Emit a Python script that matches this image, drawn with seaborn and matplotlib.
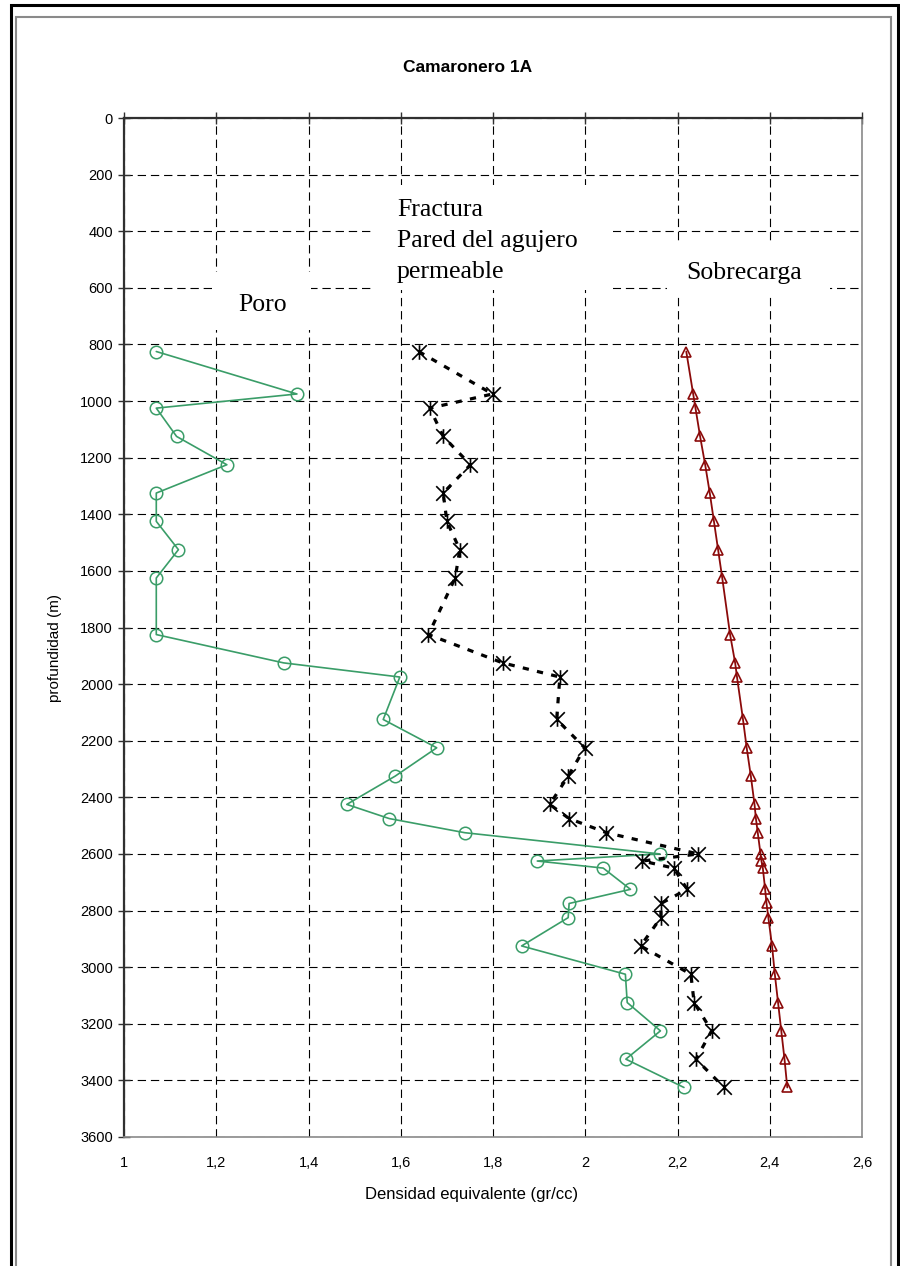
import matplotlib
matplotlib.use('Agg')
import matplotlib.pyplot as plt
import pandas as pd
import seaborn as sns
from matplotlib.path import Path
from matplotlib.patches import Rectangle
from matplotlib.ticker import FuncFormatter

# profundidad (m), shared by all three curves
DEPTH = [825, 975, 1025, 1125, 1225, 1325, 1425, 1525, 1625, 1825,
         1925, 1975, 2125, 2225, 2325, 2425, 2475, 2525, 2600, 2625,
         2650, 2725, 2775, 2825, 2925, 3025, 3125, 3225, 3325, 3425]

PORO = [1.070, 1.375, 1.070, 1.114, 1.223, 1.070, 1.070, 1.118, 1.070, 1.070,
        1.346, 1.598, 1.562, 1.678, 1.588, 1.483, 1.575, 1.739, 2.162, 1.896,
        2.039, 2.098, 1.965, 1.963, 1.862, 2.087, 2.091, 2.163, 2.088, 2.214]

FRACTURA = [1.639, 1.799, 1.663, 1.692, 1.751, 1.692, 1.700, 1.728, 1.718, 1.660,
            1.821, 1.945, 1.938, 1.999, 1.963, 1.923, 1.965, 2.046, 2.245, 2.124,
            2.192, 2.221, 2.164, 2.164, 2.120, 2.229, 2.236, 2.274, 2.240, 2.301]

SOBRECARGA = [2.219, 2.234, 2.239, 2.249, 2.260, 2.270, 2.279, 2.288, 2.297, 2.314,
              2.325, 2.329, 2.342, 2.350, 2.359, 2.367, 2.370, 2.374, 2.380, 2.382,
              2.385, 2.390, 2.393, 2.397, 2.405, 2.411, 2.418, 2.425, 2.432, 2.438]

X_TICKS = [1.0, 1.2, 1.4, 1.6, 1.8, 2.0, 2.2, 2.4, 2.6]
Y_TICKS = list(range(0, 3601, 200))

TITLE = 'Camaronero 1A'
X_LABEL = 'Densidad equivalente (gr/cc)'
Y_LABEL = 'profundidad (m)'

GREEN = '#3a9d68'
DARK_RED = '#8b0a0a'

sns.set_style('white')
plt.rcParams['font.family'] = ['Liberation Sans', 'DejaVu Sans']
plt.rcParams['text.color'] = 'black'
plt.rcParams['lines.scale_dashes'] = False

df = pd.DataFrame({'depth': DEPTH, 'poro': PORO,
                   'fractura': FRACTURA, 'sobrecarga': SOBRECARGA})

# excel style star: an X with a vertical bar through it
star = Path([(-1, -1), (1, 1), (-1, 1), (1, -1), (0, -1.0), (0, 1.0)],
            [Path.MOVETO, Path.LINETO, Path.MOVETO, Path.LINETO,
             Path.MOVETO, Path.LINETO])

W, H = 900, 1266
fig = plt.figure(figsize=(W / 100, H / 100), dpi=100)
ax = fig.add_axes([124 / W, 1 - 1137 / H, 738 / W, 1019 / H])

sns.lineplot(data=df, x='poro', y='depth', sort=False, estimator=None,
             color=GREEN, linewidth=1.2, marker='o', markersize=9,
             markerfacecolor='none', markeredgecolor=GREEN,
             markeredgewidth=1.1, ax=ax, zorder=3)
sns.lineplot(data=df, x='fractura', y='depth', sort=False, estimator=None,
             color='black', linewidth=2.3, dashes=False, ax=ax, zorder=3,
             marker=star, markersize=10.5, markeredgecolor='black',
             markeredgewidth=1.2)
ax.lines[-1].set_linestyle((0, (4.5, 6.0)))
sns.lineplot(data=df, x='sobrecarga', y='depth', sort=False, estimator=None,
             color=DARK_RED, linewidth=1.3, marker='^', markersize=7.5,
             markerfacecolor='none', markeredgecolor=DARK_RED,
             markeredgewidth=1.2, ax=ax, zorder=3)

ax.set_xlim(1.0, 2.6)
ax.set_ylim(3600, 0)
ax.set_xticks(X_TICKS)
ax.set_yticks(Y_TICKS)
ax.xaxis.set_major_formatter(FuncFormatter(lambda v, p: f'{v:g}'.replace('.', ',')))
ax.set_axisbelow(True)
ax.grid(True, color='black', linewidth=0.8, linestyle=(0, (6, 3.5)))

ax.tick_params(axis='x', bottom=False, top=True, labelbottom=True,
               labeltop=False, direction='inout', length=8, width=1,
               color='#303030', labelsize=10.5, labelcolor='black', pad=10)
ax.tick_params(axis='y', left=True, direction='inout', length=8, width=1,
               color='#303030', labelsize=10.5, labelcolor='black', pad=4)

for side in ('left', 'top'):
    ax.spines[side].set_color('#303030')
    ax.spines[side].set_linewidth(1.6)
for side in ('bottom', 'right'):
    ax.spines[side].set_color('#8a8a8a')
    ax.spines[side].set_linewidth(1.2)

ax.set_xlabel(X_LABEL, fontsize=12, color='black')
ax.set_ylabel(Y_LABEL, fontsize=11, color='black')
ax.xaxis.set_label_coords(0.4715, -0.049)
ax.yaxis.set_label_coords(-0.084, 0.48)

# white label boxes that hide the grid
for x0, y0, x1, y1 in [(1.540, 237, 2.060, 608), (1.193, 544, 1.405, 749),
                       (2.177, 438, 2.531, 632)]:
    ax.add_patch(Rectangle((x0, y0), x1 - x0, y1 - y0, facecolor='white',
                           edgecolor='none', zorder=1))

serif = ['Liberation Serif', 'DejaVu Serif']
ax.text(1.592, 435, 'Fractura\nPared del agujero\npermeable', family=serif,
        fontsize=18.5, ha='left', va='center', linespacing=1.55, zorder=2)
ax.text(1.247, 661, 'Poro', family=serif, fontsize=18.5, ha='left',
        va='center', zorder=2)
ax.text(2.218, 548, 'Sobrecarga', family=serif, fontsize=18.5, ha='left',
        va='center', zorder=2)

fig.text(468 / W, 1 - 68 / H, TITLE, ha='center', va='center',
         fontsize=12.5, fontweight='bold', color='black')

# double frame round the chart area
fig.add_artist(Rectangle((10.5 / W, -0.05), 887 / W, 1 - 5 / H + 0.05,
                         transform=fig.transFigure, fill=False,
                         edgecolor='black', linewidth=2.2))
fig.add_artist(Rectangle((16 / W, -0.05), 875 / W, 1 - 17 / H + 0.05,
                         transform=fig.transFigure, fill=False,
                         edgecolor='#8a8a8a', linewidth=1.5))

fig.savefig('out.png', dpi=100)
